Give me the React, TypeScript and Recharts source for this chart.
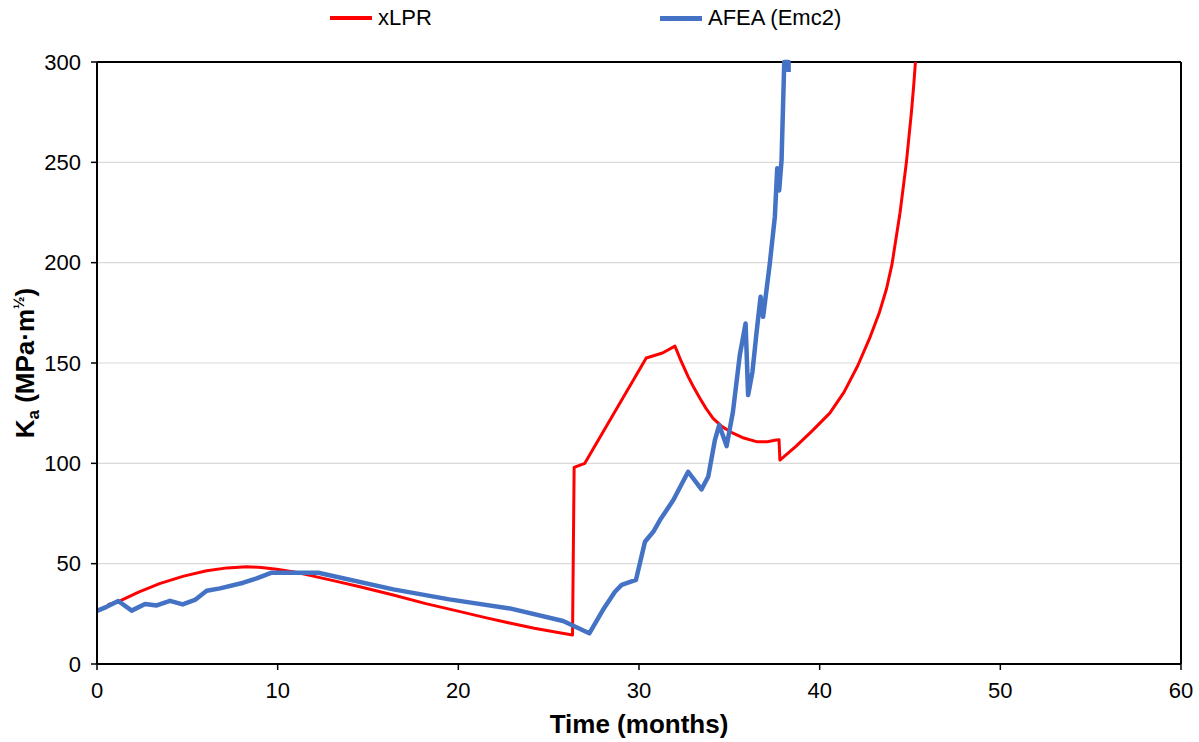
import React from 'react';
import {
  LineChart,
  Line,
  XAxis,
  YAxis,
  CartesianGrid,
  ReferenceLine,
} from 'recharts';

// xLPR prediction: time (months) vs Ka (MPa·m^1/2)
const xlprTime = [
  0.6, 1.16, 2.3, 3.5, 4.8, 6.07, 7.2, 8.28, 9.1, 9.94, 11.0, 11.97, 13.2,
  14.55, 16.4, 18.2, 20.1, 21.5, 22.9, 24.2, 25.6, 26.32,
  26.41, 27.0, 30.4, 31.3, 31.99, 32.35, 32.72, 33.05, 33.37, 33.7, 34.1, 34.6,
  35.2, 35.8, 36.5, 37.1, 37.6, 37.75,
  37.8, 38.7, 39.6, 40.56, 41.35, 42.1, 42.75, 43.3, 43.7, 44.0, 44.45, 44.8,
  45.08, 45.22, 45.3,
];
const xlprKa = [
  29.5, 31, 35.8, 40.2, 43.8, 46.5, 47.9, 48.5, 48.1, 47.2, 45.7, 43.8, 41.3,
  38.5, 34.4, 30.1, 26.1, 23.1, 20.3, 17.8, 15.6, 14.5,
  98, 100, 152.5, 155, 158.4, 150.5, 143.2, 137.5, 132.4, 127.5, 122.4, 118.3,
  115, 112.6, 110.8, 110.8, 111.6, 111.8,
  101.6, 108.6, 116.3, 125, 135.5, 148.5, 162, 175, 187, 199, 225, 250,
  275, 290, 300,
];

// AFEA (Emc2) simulation: time (months) vs Ka (MPa·m^1/2)
const afeaTime = [
  0, 0.53, 1.18, 1.92, 2.66, 3.3, 4.04, 4.74, 5.42, 6.07, 6.81, 8.1, 8.84, 9.67,
  12.25, 16.4, 19.5, 22.85, 25.8, 27.25, 28.0, 28.67, 29.04, 29.83, 30.33,
  30.79, 31.16, 31.9, 32.72, 33.46, 33.83, 34.2, 34.44, 34.85, 35.2, 35.58,
  35.9, 36.04, 36.28, 36.5, 36.73, 36.87, 37.24, 37.52, 37.65, 37.76, 37.89,
  38.04, 38.28, 38.28,
];
const afeaKa = [
  26.5, 28.5, 31.4, 26.6, 29.9, 29.2, 31.5, 29.7, 31.9, 36.5, 37.7, 40.5, 42.7,
  45.5, 45.5, 37.2, 32.2, 27.7, 21.4, 15.3, 26.9, 36.0, 39.4, 41.9, 60.9, 65.9,
  71.7, 81.7, 95.8, 87.0, 93.3, 111.6, 119.1, 108.6, 125.7, 154, 169.7, 134,
  145.6, 164.7, 183, 173, 199.6, 222.9, 247, 236, 251, 300, 300, 295,
];

const timeTicks = [0, 10, 20, 30, 40, 50, 60];
const kaTicks = [0, 50, 100, 150, 200, 250, 300];

const seriesNames = ['xLPR', 'AFEA (Emc2)'];

const xlprData = xlprTime.map((t, i) => ({ t, ka: xlprKa[i] }));
const afeaData = afeaTime.map((t, i) => ({ t, ka: afeaKa[i] }));

const FONT = '"Liberation Sans", Arial, sans-serif';
const RED = '#FF0000';
const BLUE = '#4472C4';

const XTitle = (props: any) => {
  const vb = props.viewBox || {};
  return (
    <text
      x={vb.x + vb.width / 2}
      y={vb.y + 69}
      textAnchor="middle"
      fontFamily={FONT}
      fontWeight="bold"
      fontSize={26}
      fill="#000"
    >
      Time (months)
    </text>
  );
};

const YTitle = (props: any) => {
  const vb = props.viewBox || {};
  const cx = 25;
  const cy = vb.y + vb.height / 2;
  return (
    <text
      transform={`rotate(-90 ${cx} ${cy})`}
      x={cx}
      y={cy + 9}
      textAnchor="middle"
      fontFamily={FONT}
      fontWeight="bold"
      fontSize={26}
      fill="#000"
    >
      K
      <tspan fontSize={17} dy={5}>a</tspan>
      <tspan dy={-5}> (MPa·m</tspan>
      <tspan fontSize={15} dy={-10}>½</tspan>
      <tspan dy={10}>)</tspan>
    </text>
  );
};

const legendItems = [
  { name: seriesNames[0], color: RED, left: 330, width: 4 },
  { name: seriesNames[1], color: BLUE, left: 660, width: 5 },
];

export default function App() {
  return (
    <div style={{ position: 'absolute', left: 0, top: 0, width: 1199, height: 742, background: '#fff' }}>
      {legendItems.map((it) => (
        <div
          key={it.name}
          style={{
            position: 'absolute',
            left: it.left,
            top: 6,
            height: 24,
            display: 'flex',
            alignItems: 'center',
            fontFamily: FONT,
            fontSize: 22,
            color: '#000',
            whiteSpace: 'nowrap',
          }}
        >
          <div style={{ width: 42, height: it.width, background: it.color, marginRight: 6 }} />
          <span>{it.name}</span>
        </div>
      ))}
      <LineChart
        width={1199}
        height={742}
        margin={{ top: 62, right: 18, bottom: 18, left: 37 }}
      >
        <CartesianGrid vertical={false} stroke="#D9D9D9" strokeWidth={1.2} />
        <XAxis
          dataKey="t"
          type="number"
          domain={[0, 60]}
          ticks={timeTicks}
          allowDuplicatedCategory={false}
          height={60}
          tickSize={6}
          tickMargin={12}
          stroke="#000"
          axisLine={{ stroke: '#000', strokeWidth: 2 }}
          tickLine={{ stroke: '#000', strokeWidth: 1.5 }}
          tick={{ fill: '#000', fontSize: 22, fontFamily: FONT }}
          label={<XTitle />}
        />
        <YAxis
          type="number"
          domain={[0, 300]}
          ticks={kaTicks}
          width={60}
          tickSize={6}
          tickMargin={10}
          stroke="#000"
          axisLine={{ stroke: '#000', strokeWidth: 2 }}
          tickLine={{ stroke: '#000', strokeWidth: 1.5 }}
          tick={{ fill: '#000', fontSize: 22, fontFamily: FONT }}
          label={<YTitle />}
        />
        <ReferenceLine y={300} stroke="#000" strokeWidth={2} />
        <ReferenceLine x={60} stroke="#000" strokeWidth={2} />
        <Line
          data={xlprData}
          dataKey="ka"
          name={seriesNames[0]}
          type="linear"
          stroke={RED}
          strokeWidth={3}
          strokeLinejoin="round"
          dot={false}
          isAnimationActive={false}
        />
        <Line
          data={afeaData}
          dataKey="ka"
          name={seriesNames[1]}
          type="linear"
          stroke={BLUE}
          strokeWidth={4.5}
          strokeLinejoin="round"
          dot={false}
          isAnimationActive={false}
        />
      </LineChart>
    </div>
  );
}
